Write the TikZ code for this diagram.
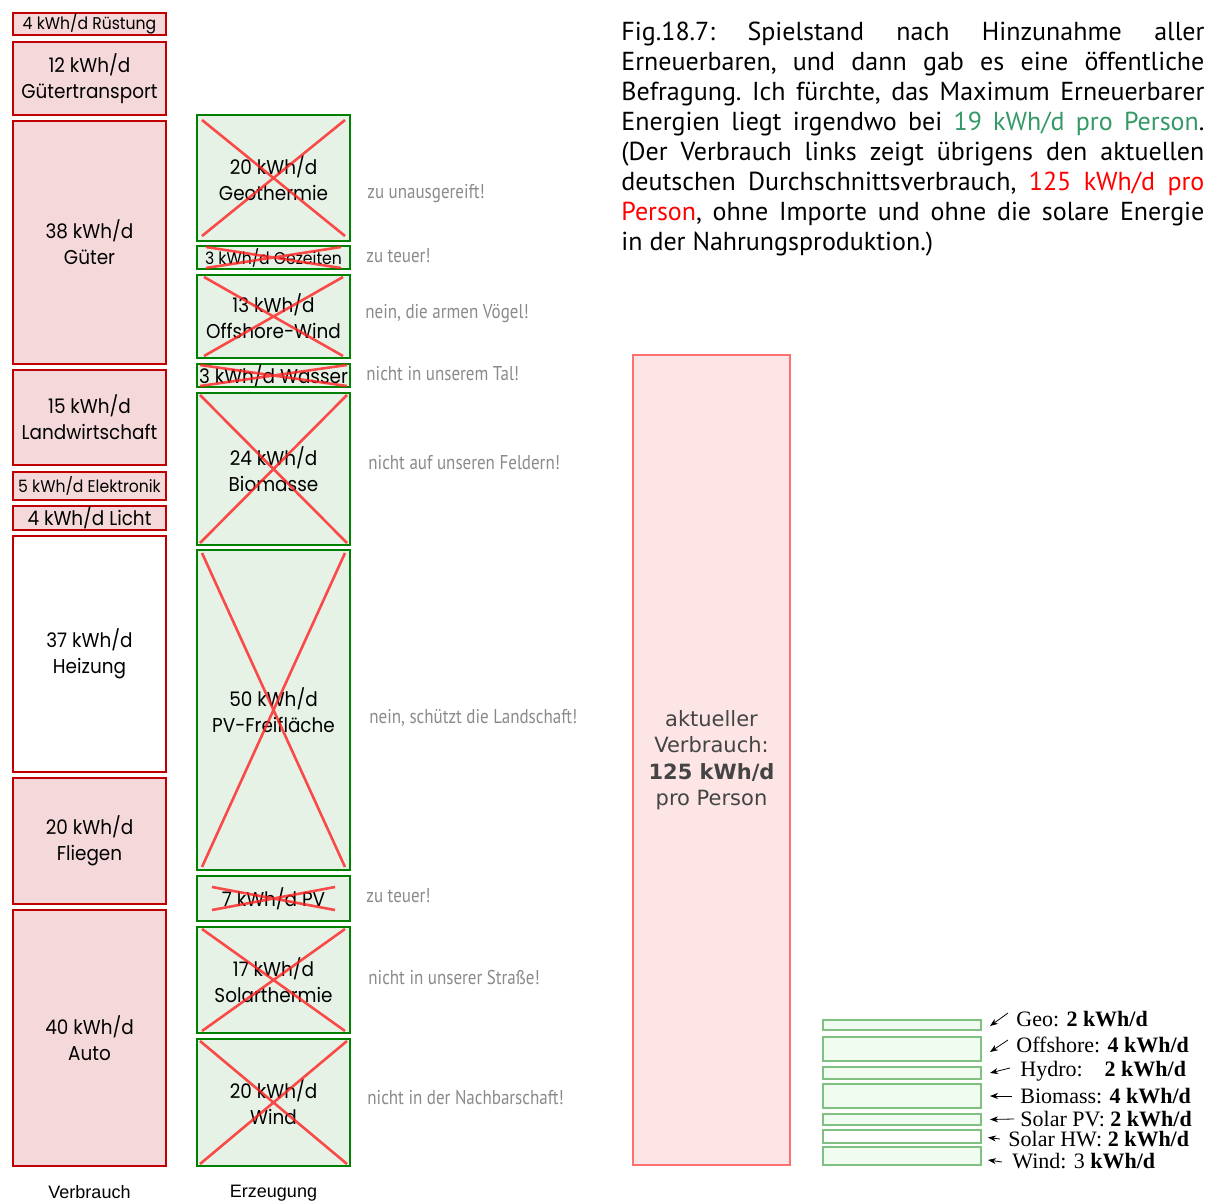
\documentclass[tikz,border=0pt]{standalone}
\usepackage{fontspec}
\usetikzlibrary{arrows.meta,positioning}

\newfontfamily\capfont{PT Sans}
\newfontfamily\boxfont[FakeStretch=0.92]{Poppins}
\newfontfamily\notefont[FakeStretch=0.85]{PT Sans}
\newfontfamily\dvfont{DejaVu Sans}
\newfontfamily\axfont{Liberation Sans}
\newfontfamily\legfont{Liberation Serif}

\definecolor{verbrand}{HTML}{C00000}
\definecolor{verbfill}{HTML}{F5D9DA}
\definecolor{erzrand}{HTML}{008000}
\definecolor{erzfill}{HTML}{E6F2E6}
\definecolor{kreuzrot}{HTML}{FF2020}
\definecolor{notegrau}{HTML}{8A8A8A}
\definecolor{aktrand}{HTML}{FF7070}
\definecolor{aktfill}{HTML}{FDE5E5}
\definecolor{akttext}{HTML}{444444}
\definecolor{leggruen}{HTML}{80C080}
\definecolor{legfill}{HTML}{F0FCF0}
\definecolor{textgruen}{HTML}{339966}

\tikzset{
  verb/.style={draw=verbrand, fill=verbfill, line width=1pt, minimum width=76.5pt,
    inner sep=0pt, align=center, font=\boxfont\fontsize{10}{13}\selectfont},
  erz/.style={draw=erzrand, fill=erzfill, line width=1pt, minimum width=76.5pt,
    inner sep=0pt, align=center, font=\boxfont\fontsize{10}{13}\selectfont},
  klein/.style={font=\boxfont\fontsize{8.5}{10}\selectfont},
  kreuz/.style={draw=kreuzrot, line width=1.3pt, opacity=0.8},
  notiz/.style={anchor=west, inner sep=0pt, text=notegrau,
    font=\notefont\fontsize{10}{12}\selectfont},
  legbox/.style={draw=leggruen, fill=legfill, line width=0.8pt, minimum width=79.2pt,
    inner sep=0pt},
  leglab/.style={anchor=west, inner sep=0pt, font=\legfont\fontsize{11}{12}\selectfont},
  pfeil/.style={-{Stealth[length=4pt,width=3pt]}, line width=0.4pt},
}

% red cross over a rejected source: node, x inset, y inset
\newcommand{\streichen}[3]{%
  \draw[kreuz] ([shift={(#2,-#3)}]#1.north west) -- ([shift={(-#2,#3)}]#1.south east)
               ([shift={(-#2,-#3)}]#1.north east) -- ([shift={(#2,#3)}]#1.south west);}

\begin{document}
\begin{tikzpicture}[x=0.5pt,y=-0.5pt]
\useasboundingbox (0,0) rectangle (1206,1204);

% Verbrauch
\node[verb, klein, minimum height=11pt] (ruestung) at (89.5,24) {4 kWh/d Rüstung};
\node[verb, minimum height=36.5pt] (guetertransport) at (89.5,78.5) {12 kWh/d\\Gütertransport};
\node[verb, minimum height=121.5pt] (gueter) at (89.5,242.5) {38 kWh/d\\Güter};
\node[verb, minimum height=47.5pt] (landwirtschaft) at (89.5,417.5) {15 kWh/d\\Landwirtschaft};
\node[verb, klein, minimum height=14pt] (elektronik) at (89.5,486) {5 kWh/d Elektronik};
\node[verb, minimum height=12pt] (licht) at (89.5,518) {4 kWh/d Licht};
\node[verb, fill=white, minimum height=118pt] (heizung) at (89.5,654) {37 kWh/d\\Heizung};
\node[verb, minimum height=63pt] (fliegen) at (89.5,841) {20 kWh/d\\Fliegen};
\node[verb, minimum height=128pt] (auto) at (89.5,1038) {40 kWh/d\\Auto};
\node[below=9pt of auto, inner sep=0pt, font=\axfont\fontsize{9}{10}\selectfont] (verbrauch) {Verbrauch};

% Erzeugung
\node[erz, minimum height=63pt] (geothermie) at (273.5,178) {20 kWh/d\\Geothermie};
\node[erz, klein, minimum height=11.5pt] (gezeiten) at (273.5,257.5) {3 kWh/d Gezeiten};
\node[erz, minimum height=41.5pt] (offshore) at (273.5,316.5) {13 kWh/d\\Offshore-Wind};
\node[erz, minimum height=11.5pt] (wasser) at (273.5,375.5) {3 kWh/d Wasser};
\node[erz, minimum height=76pt] (biomasse) at (273.5,469) {24 kWh/d\\Biomasse};
\node[erz, minimum height=160pt] (pvfrei) at (273.5,710) {50 kWh/d\\PV-Freifläche};
\node[erz, minimum height=22.5pt] (pv) at (273.5,898.5) {7 kWh/d PV};
\node[erz, minimum height=53pt] (solarthermie) at (273.5,980) {17 kWh/d\\Solarthermie};
\node[erz, minimum height=63.5pt] (wind) at (273.5,1102.5) {20 kWh/d\\Wind};
\node[below=9pt of wind, inner sep=0pt, font=\axfont\fontsize{9}{10}\selectfont] (erzeugung) {Erzeugung};

\streichen{geothermie}{3pt}{3pt}
\streichen{gezeiten}{5pt}{1pt}
\streichen{offshore}{4pt}{1.5pt}
\streichen{wasser}{2pt}{1pt}
\streichen{biomasse}{2pt}{1.5pt}
\streichen{pvfrei}{3pt}{2pt}
\streichen{pv}{8pt}{6pt}
\streichen{solarthermie}{3pt}{1.5pt}
\streichen{wind}{2pt}{1.5pt}

% Einwaende
\node[notiz] (n1) at (367,194) {zu unausgereift!};
\node[notiz] (n2) at (366,256) {zu teuer!};
\node[notiz] (n3) at (365,314) {nein, die armen Vögel!};
\node[notiz] (n4) at (366,374) {nicht in unserem Tal!};
\node[notiz] (n5) at (368,463) {nicht auf unseren Feldern!};
\node[notiz] (n6) at (369,718) {nein, schützt die Landschaft!};
\node[notiz] (n7) at (366,896) {zu teuer!};
\node[notiz] (n8) at (368,977) {nicht in unserer Straße!};
\node[notiz] (n9) at (367,1098) {nicht in der Nachbarschaft!};

% aktueller Verbrauch
\node[draw=aktrand, fill=aktfill, line width=1pt, minimum width=78.5pt, minimum height=405pt,
  align=center, text=akttext, font=\dvfont\fontsize{10.5}{13.25}\selectfont] (aktuell)
  at (711.5,760) {aktueller\\Verbrauch:\\\textbf{125 kWh/d}\\pro Person};

% Bildunterschrift
\node[anchor=north west, inner sep=0pt, text width=291.5pt, align=justify,
  font=\capfont\fontsize{13}{15}\selectfont\frenchspacing] (caption) at (621,22)
  {Fig.18.7: Spielstand nach Hinzunahme aller\linebreak
   Erneuerbaren, und dann gab es eine öffentliche\linebreak
   Befragung. Ich fürchte, das Maximum Erneuerbarer\linebreak
   Energien liegt irgendwo bei \textcolor{textgruen}{19 kWh/d pro Person}.\linebreak
   (Der Verbrauch links zeigt übrigens den aktuellen\linebreak
   deutschen Durchschnittsverbrauch, \textcolor{red}{125 kWh/d pro\linebreak
   Person}, ohne Importe und ohne die solare Energie\linebreak
   in der Nahrungsproduktion.)};

% Legende
\node[legbox, minimum height=5.2pt] (bgeo) at (902,1025) {};
\node[legbox, minimum height=12.2pt] (boffshore) at (902,1049) {};
\node[legbox, minimum height=6.2pt] (bhydro) at (902,1073) {};
\node[legbox, minimum height=12.2pt] (bbiomass) at (902,1096) {};
\node[legbox, minimum height=5.7pt] (bsolarpv) at (902,1119.5) {};
\node[legbox, fill=white, minimum height=6.7pt] (bsolarhw) at (902,1136.5) {};
\node[legbox, minimum height=9.2pt] (bwind) at (902,1156) {};

\node[leglab] (lgeo) at (1016,1019) {Geo: \textbf{2 kWh/d}};
\node[leglab] (loffshore) at (1016,1045) {Offshore: \textbf{4 kWh/d}};
\node[leglab] (lhydro) at (1020,1071) {Hydro:\hspace{1em}\textbf{2 kWh/d}};
\node[leglab] (lbiomass) at (1020,1096) {Biomass: \textbf{4 kWh/d}};
\node[leglab] (lsolarpv) at (1020,1119) {Solar PV: \textbf{2 kWh/d}};
\node[leglab] (lsolarhw) at (1008,1139) {Solar HW: \textbf{2 kWh/d}};
\node[leglab] (lwind) at (1012,1161) {Wind: 3 \textbf{kWh/d}};

\draw[pfeil] ([shift={(-4pt,3pt)}]lgeo.west) -- ([shift={(4pt,-0.5pt)}]bgeo.east);
\draw[pfeil] ([shift={(-4pt,2.5pt)}]loffshore.west) -- ([shift={(4pt,-1.5pt)}]boffshore.east);
\draw[pfeil] ([shift={(-5pt,1.5pt)}]lhydro.west) -- ([xshift=4pt]bhydro.east);
\draw[pfeil] ([xshift=-4pt]lbiomass.west) -- ([xshift=4pt]bbiomass.east);
\draw[pfeil] ([xshift=-3pt]lsolarpv.west) -- ([xshift=4pt]bsolarpv.east);
\draw[pfeil] ([xshift=-4pt]lsolarhw.west) -- ([shift={(3pt,-0.5pt)}]bsolarhw.east);
\draw[pfeil] ([shift={(-5pt,-0.5pt)}]lwind.west) -- ([shift={(3pt,-2pt)}]bwind.east);
\end{tikzpicture}
\end{document}
